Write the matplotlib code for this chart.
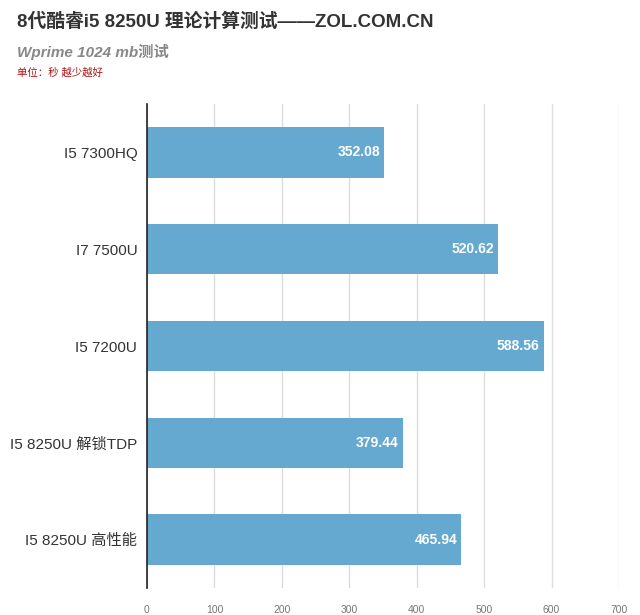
import matplotlib
matplotlib.use("Agg")
import matplotlib.pyplot as plt

plt.rcParams['font.family'] = ['Liberation Sans', 'Noto Sans CJK SC', 'DejaVu Sans']

categories = ["I5 7300HQ", "I7 7500U", "I5 7200U", "I5 8250U 解锁TDP", "I5 8250U 高性能"]
values = [352.08, 520.62, 588.56, 379.44, 465.94]
xticks = [0, 100, 200, 300, 400, 500, 600, 700]

title = "8代酷睿i5 8250U 理论计算测试——ZOL.COM.CN"
subtitle = "Wprime 1024 mb测试"
unit = "单位：秒 越少越好"

fig = plt.figure(figsize=(6.4, 6.15), dpi=100)
ax = fig.add_axes([147/640, 1-588/615, (619-147)/640, (588-104)/615])

ypos = list(range(len(categories)))
ax.barh(ypos, values, height=0.52, color="#65a9d1", zorder=3)
ax.set_ylim(len(categories)-0.5, -0.5)
ax.set_xlim(0, 700)
ax.set_xticks(xticks)
ax.set_xticklabels([str(t) for t in xticks], fontsize=7.5, color="#777777")
ax.set_yticks(ypos)
ax.set_yticklabels(categories, fontsize=11, color="#333333")
ax.tick_params(axis='x', length=0, pad=12)
ax.tick_params(axis='y', length=0, pad=7)
ax.grid(axis='x', color="#dddddd", lw=1, zorder=0)
for s in ['top', 'right', 'bottom']:
    ax.spines[s].set_visible(False)
ax.spines['left'].set_color('#222222')
ax.spines['left'].set_linewidth(1.2)
ax.spines['left'].set_zorder(4)

for y, v in zip(ypos, values):
    ax.text(v - 6, y, f"{v:.2f}", ha='right', va='center', color='white',
            fontsize=10, fontweight='bold', zorder=5)

fig.text(17/640, 1-22/615, title, fontsize=13.5, fontweight='bold', color="#333333",
         va='center', ha='left')
fig.text(17/640, 1-52/615, subtitle, fontsize=11, fontweight='bold', style='italic',
         color="#888888", va='center', ha='left')
fig.text(17/640, 1-73/615, unit, fontsize=7.5, color="#aa1111", va='center', ha='left')

fig.savefig("out.png", dpi=100)
